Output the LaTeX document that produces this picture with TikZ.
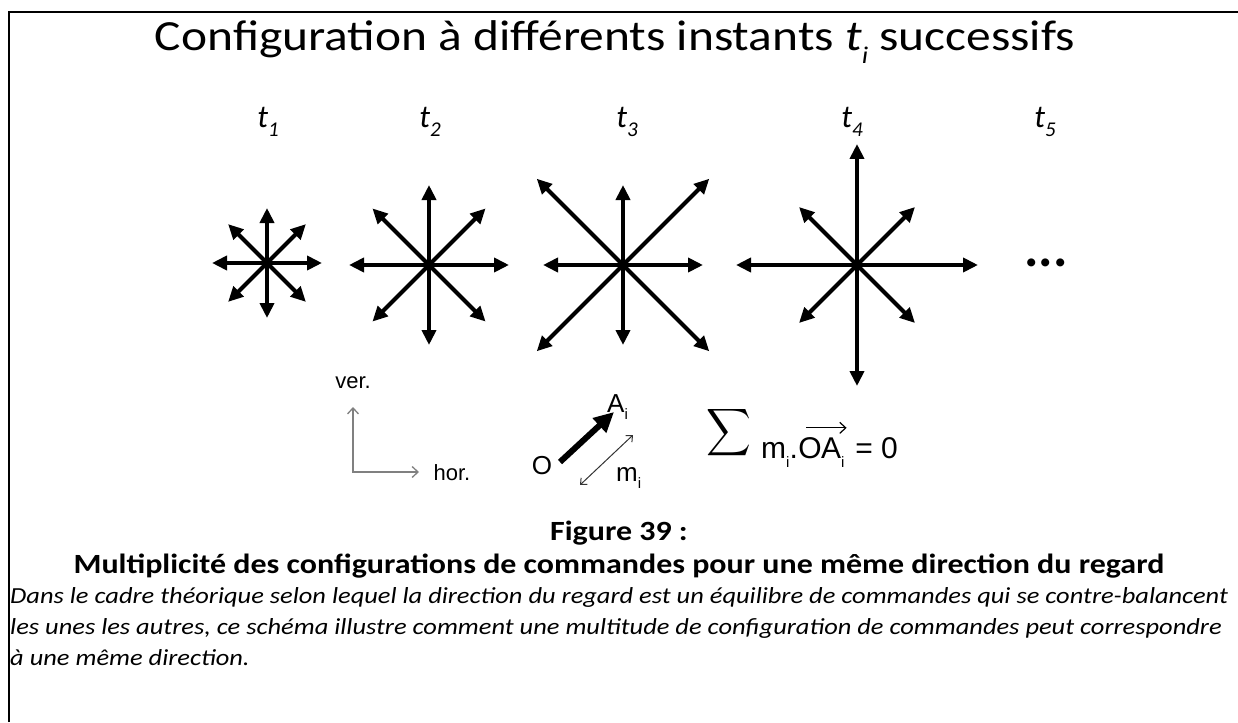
\documentclass[tikz,border=0pt]{standalone}
\usepackage{fontspec}
\setmainfont{Carlito}
\newfontfamily\largfont{Carlito}[FakeStretch=1.15]
\newfontfamily\arialfont{Liberation Sans}
\usetikzlibrary{arrows.meta}
\newcommand{\tsub}[1]{\textit{t}\raisebox{-0.28em}{\fontsize{21}{21}\selectfont\textit{#1}}}
\newcommand{\isub}{\raisebox{-0.3em}{\fontsize{15}{15}\selectfont i}}

\begin{document}
\begin{tikzpicture}[x=1pt, y=-1pt,
  cmd/.style={line width=4pt, -{Triangle[length=15pt,width=14pt]}},
  lbl/.style={font=\fontsize{32}{34}\selectfont},
  leg/.style={font=\arialfont\fontsize{26}{28}\selectfont},
  axe/.style={font=\arialfont\fontsize{22}{24}\selectfont},
  eqf/.style={font=\arialfont\fontsize{30}{30}\selectfont, anchor=base west, inner sep=0pt},
  legende/.style={font=\largfont\fontsize{23}{26}\selectfont\itshape, anchor=west, inner sep=0pt}]
\useasboundingbox (0,0) rectangle (1238,722);
% ---------- frame ----------
\draw[line width=2pt] (9,722) -- (9,12) -- (1238,12);
% ---------- title ----------
\node[font=\largfont\fontsize{43}{45}\selectfont] (titre) at (615,42)
  {Configuration à différents instants \textit{t}\raisebox{-0.3em}{\fontsize{24}{24}\selectfont\textit{i}} successifs};
% ---------- instants ----------
\node[lbl] (t1) at (268,122) {\tsub{1}};
\node[lbl] (t2) at (430,122) {\tsub{2}};
\node[lbl] (t3) at (627,122) {\tsub{3}};
\node[lbl] (t4) at (852,122) {\tsub{4}};
\node[lbl] (t5) at (1045,122) {\tsub{5}};
% ---------- configurations of commands ----------
\coordinate (c1) at (267,263);
\coordinate (c2) at (429,265);
\coordinate (c3) at (623,265);
\coordinate (c4) at (857,265);
% t1: all equal
\foreach \a in {0,45,...,315} \draw[cmd] (c1) -- ++(\a:55);
% t2: all equal, larger
\foreach \a in {0,45,...,315} \draw[cmd] (c2) -- ++(\a:80);
% t3: long diagonals
\foreach \a in {0,90,180,270} \draw[cmd] (c3) -- ++(\a:80);
\foreach \a in {45,135,225,315} \draw[cmd] (c3) -- ++(\a:122);
% t4: long axes
\foreach \a in {0,90,180,270} \draw[cmd] (c4) -- ++(\a:121);
\foreach \a in {45,135,225,315} \draw[cmd] (c4) -- ++(\a:82);
\node[font=\fontsize{54}{54}\selectfont\bfseries] (dots) at (1046,263) {...};
% ---------- legend: axes ----------
\coordinate (orig) at (353,472);
\coordinate (vtop) at (353,407);
\coordinate (hend) at (419,472);
\draw[gray, line width=1.3pt, {Straight Barb[length=6pt,width=11pt]}-{Straight Barb[length=6pt,width=11pt]}]
  (vtop) -- (orig) -- (hend);
\node[axe] (ver) at (353,383) {ver.};
\node[axe] (hor) at (452,473) {hor.};
% ---------- legend: one command ----------
\node[leg] (O) at (542,466) {O};
\node[leg, anchor=base west, inner sep=0pt] (A) at (607,412) {A\isub};
\coordinate (o1) at (560,462);
\coordinate (a1) at (614,412);
\draw[line width=6pt, -{Triangle[length=20pt,width=19pt]}] (o1) -- (a1);
\coordinate (m1) at (580,485);
\coordinate (m2) at (633,435);
\draw[black!80, line width=1pt, {Straight Barb[length=5pt,width=9pt]}-{Straight Barb[length=5pt,width=9pt]}] (m1) -- (m2);
\node[leg, anchor=base west, inner sep=0pt] (m) at (616,481) {m\isub};
% ---------- legend: balance ----------
\node[inner sep=0pt] (sigma) at (729,433) {\scalebox{3.1}[3.3]{$\displaystyle\sum$}};
\node[eqf] (mi) at (761,458) {m\isub.};
\node[eqf] (oa) at (mi.base east) {O\kern-0.5pt A\isub};
\node[eqf] (eg) at (oa.base east) {\hspace{0.35em}= 0};
\draw[line width=1.2pt, -{Straight Barb[length=6pt,width=11pt]}]
  ([xshift=8pt, yshift=9pt]oa.north west) -- ([xshift=2pt, yshift=9pt]oa.north east);
% ---------- caption ----------
\node[font=\largfont\fontsize{27.8}{30}\selectfont\bfseries] (fig) at (619,533) {Figure 39 :};
\node[font=\largfont\fontsize{27.8}{30}\selectfont\bfseries] (titrefig) at (619,566)
  {Multiplicité des configurations de commandes pour une même direction du regard};
\node[legende] (l1) at (10,597) {Dans le cadre théorique selon lequel la direction du regard est un équilibre de commandes qui se contre-balancent};
\node[legende] (l2) at (10,628) {les unes les autres, ce schéma illustre comment une multitude de configuration de commandes peut correspondre};
\node[legende] (l3) at (10,658) {à une même direction.};
\end{tikzpicture}
\end{document}
